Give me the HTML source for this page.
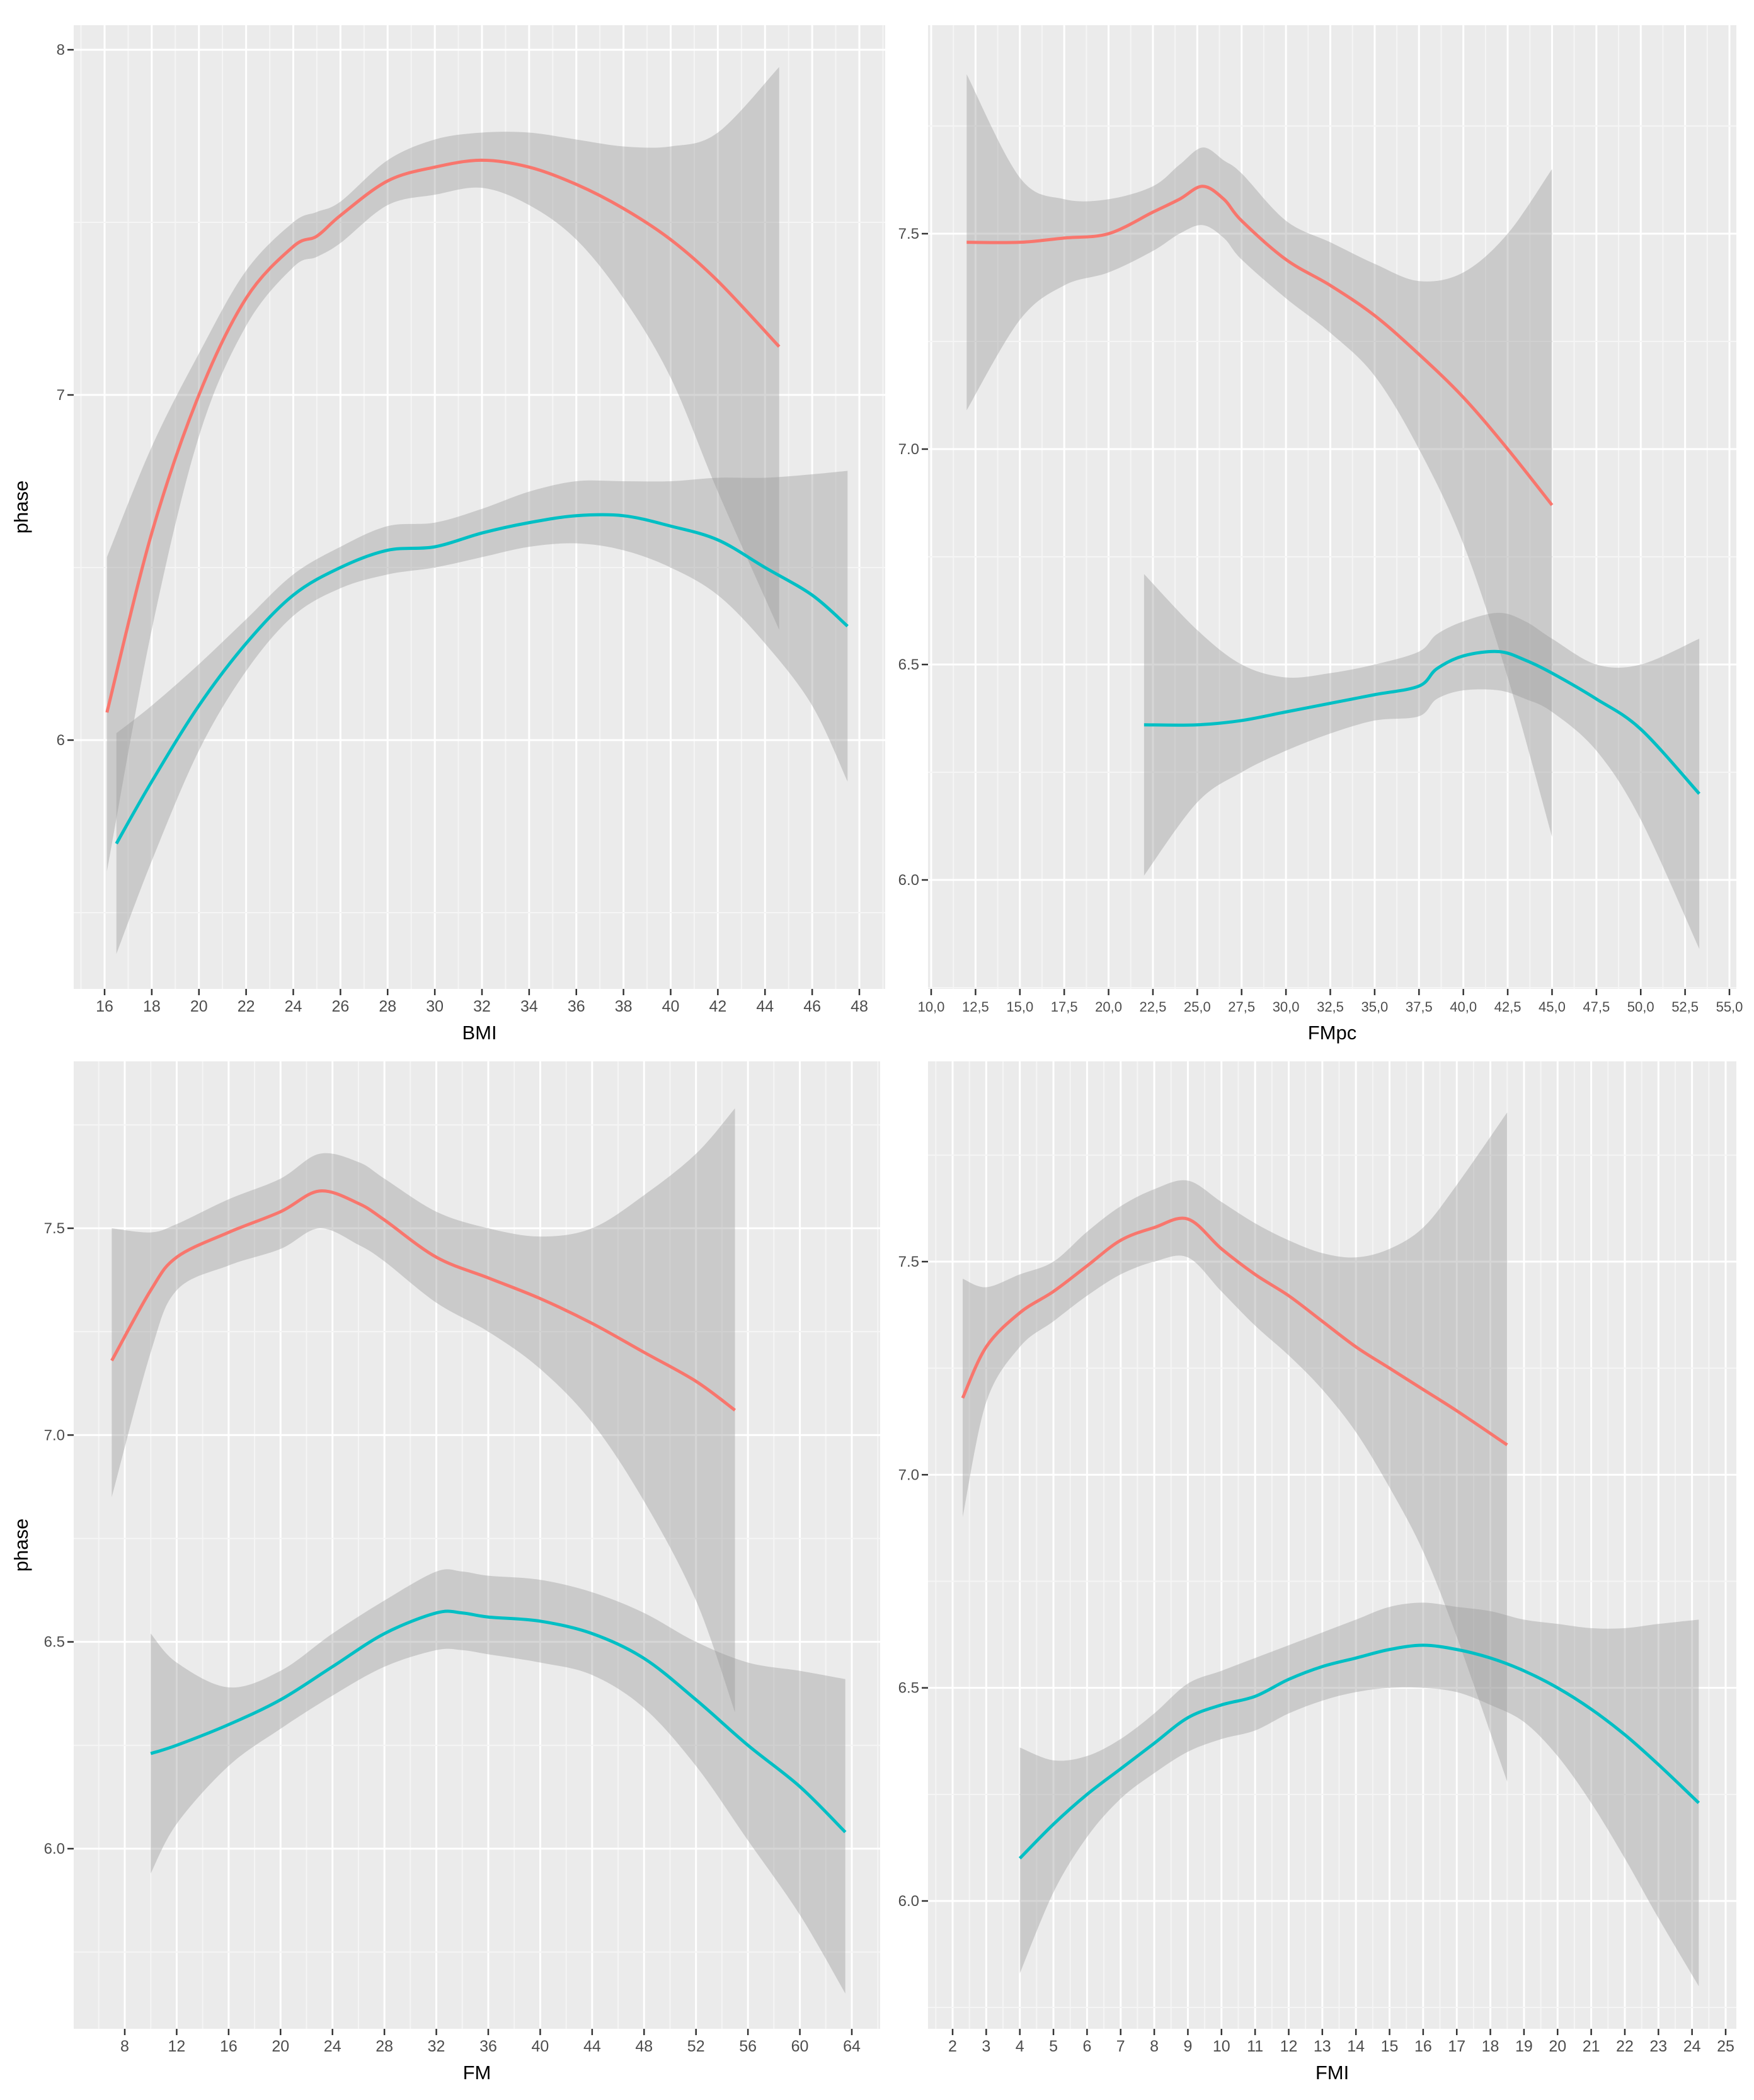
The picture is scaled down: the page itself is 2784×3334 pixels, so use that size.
<!DOCTYPE html>
<html><head><meta charset="utf-8"><style>
html,body{margin:0;padding:0;background:#fff;width:2784px;height:3334px;overflow:hidden}
svg{display:block;font-family:"Liberation Sans",sans-serif;overflow:hidden}
</style></head><body>
<svg id="chart" width="2784" height="3334" viewBox="0 0 2784 3334" xmlns="http://www.w3.org/2000/svg"></svg>
<script>
// ---- Panel 1: BMI ----
const bmiRedX=[16.1,18,20,22,24,25,26,28,30,32,34,36,38,40,42,44.6];
const bmiRedFit=[6.08,6.6,7.0,7.28,7.43,7.46,7.52,7.62,7.66,7.68,7.66,7.61,7.54,7.45,7.33,7.14];
const bmiRedHi=[6.53,6.85,7.12,7.36,7.5,7.53,7.56,7.68,7.74,7.76,7.76,7.74,7.72,7.72,7.76,7.95];
const bmiRedLo=[5.62,6.32,6.88,7.2,7.37,7.4,7.44,7.55,7.58,7.6,7.55,7.45,7.28,7.05,6.72,6.32];
const bmiCyX=[16.5,18,20,22,24,26,28,30,32,34,36,38,40,42,44,46,47.5];
const bmiCyFit=[5.7,5.88,6.1,6.28,6.42,6.5,6.55,6.56,6.6,6.63,6.65,6.65,6.62,6.58,6.5,6.42,6.33];
const bmiCyHi=[6.02,6.1,6.22,6.35,6.48,6.56,6.62,6.63,6.67,6.72,6.75,6.75,6.75,6.76,6.76,6.77,6.78];
const bmiCyLo=[5.38,5.65,5.97,6.2,6.36,6.44,6.48,6.5,6.53,6.56,6.57,6.55,6.5,6.42,6.28,6.1,5.88];
const bmiXTicks=["16","18","20","22","24","26","28","30","32","34","36","38","40","42","44","46","48"];
const bmiYTicks=["6","7","8"];
// ---- Panel 2: FMpc ----
const fmpcRedX=[12,15,17.5,20,22.5,24,25.3,26.5,27.5,30,32.5,35,37.5,40,42.5,45];
const fmpcRedFit=[7.48,7.48,7.49,7.5,7.55,7.58,7.61,7.58,7.53,7.44,7.38,7.31,7.22,7.12,7.0,6.87];
const fmpcRedHi=[7.87,7.63,7.58,7.58,7.61,7.66,7.7,7.67,7.64,7.53,7.48,7.43,7.39,7.41,7.5,7.65];
const fmpcRedLo=[7.09,7.3,7.38,7.41,7.46,7.5,7.52,7.49,7.44,7.35,7.27,7.17,7.0,6.78,6.47,6.1];
const fmpcCyX=[22,25,27.5,30,32.5,35,37.5,38.5,40,42,43.5,45,47.5,50,53.3];
const fmpcCyFit=[6.36,6.36,6.37,6.39,6.41,6.43,6.45,6.49,6.52,6.53,6.51,6.48,6.42,6.35,6.2];
const fmpcCyHi=[6.71,6.58,6.5,6.47,6.48,6.5,6.53,6.57,6.6,6.62,6.6,6.56,6.5,6.5,6.56];
const fmpcCyLo=[6.01,6.18,6.25,6.3,6.34,6.37,6.38,6.42,6.44,6.44,6.42,6.39,6.3,6.14,5.84];
const fmpcXTicks=["10,0","12,5","15,0","17,5","20,0","22,5","25,0","27,5","30,0","32,5","35,0","37,5","40,0","42,5","45,0","47,5","50,0","52,5","55,0"];
const fmpcYTicks=["6.0","6.5","7.0","7.5"];
// ---- Panel 3: FM ----
const fmRedX=[7,10,12,16,20,23,26,28,32,36,40,44,48,52,55];
const fmRedFit=[7.18,7.35,7.43,7.49,7.54,7.59,7.56,7.52,7.43,7.38,7.33,7.27,7.2,7.13,7.06];
const fmRedHi=[7.5,7.49,7.51,7.57,7.62,7.68,7.66,7.62,7.54,7.5,7.48,7.5,7.58,7.68,7.79];
const fmRedLo=[6.85,7.2,7.35,7.41,7.45,7.5,7.46,7.42,7.32,7.25,7.16,7.03,6.84,6.6,6.33];
const fmCyX=[10,12,16,20,24,28,32,34,36,40,44,48,52,56,60,63.5];
const fmCyFit=[6.23,6.25,6.3,6.36,6.44,6.52,6.57,6.57,6.56,6.55,6.52,6.46,6.36,6.25,6.15,6.04];
const fmCyHi=[6.52,6.45,6.39,6.43,6.52,6.6,6.67,6.67,6.66,6.65,6.62,6.57,6.5,6.45,6.43,6.41];
const fmCyLo=[5.94,6.06,6.2,6.29,6.37,6.44,6.48,6.48,6.47,6.45,6.42,6.34,6.2,6.02,5.84,5.65];
const fmXTicks=["8","12","16","20","24","28","32","36","40","44","48","52","56","60","64"];
const fmYTicks=["6.0","6.5","7.0","7.5"];
// ---- Panel 4: FMI ----
const fmiRedX=[2.3,3,4,5,6,7,8,9,10,11,12,13,14,15,16,17,18.5];
const fmiRedFit=[7.18,7.3,7.38,7.43,7.49,7.55,7.58,7.6,7.53,7.47,7.42,7.36,7.3,7.25,7.2,7.15,7.07];
const fmiRedHi=[7.46,7.44,7.47,7.5,7.57,7.63,7.67,7.69,7.64,7.59,7.55,7.52,7.51,7.53,7.58,7.68,7.85];
const fmiRedLo=[6.9,7.17,7.3,7.36,7.42,7.47,7.5,7.51,7.43,7.35,7.28,7.2,7.1,6.97,6.82,6.62,6.28];
const fmiCyX=[4,5,6,7,8,9,10,11,12,13,14,15,16,17,18,19,20,21,22,23,24.2];
const fmiCyFit=[6.1,6.18,6.25,6.31,6.37,6.43,6.46,6.48,6.52,6.55,6.57,6.59,6.6,6.59,6.57,6.54,6.5,6.45,6.39,6.32,6.23];
const fmiCyHi=[6.36,6.33,6.34,6.38,6.44,6.51,6.54,6.57,6.6,6.63,6.66,6.69,6.7,6.69,6.68,6.66,6.65,6.64,6.64,6.65,6.66];
const fmiCyLo=[5.83,6.02,6.15,6.24,6.3,6.35,6.38,6.4,6.44,6.47,6.49,6.5,6.5,6.49,6.46,6.42,6.34,6.23,6.1,5.96,5.8];
const fmiXTicks=["2","3","4","5","6","7","8","9","10","11","12","13","14","15","16","17","18","19","20","21","22","23","24","25"];
const fmiYTicks=["6.0","6.5","7.0","7.5"];

const NS="http://www.w3.org/2000/svg";
const svg=document.getElementById('chart');
function mk(tag,attrs,parent){const e=document.createElementNS(NS,tag);for(const k in attrs)e.setAttribute(k,attrs[k]);(parent||svg).appendChild(e);return e;}
function smooth(pts){let d='M'+pts[0][0]+','+pts[0][1];for(let i=0;i<pts.length-1;i++){const p0=pts[i-1]||pts[i],p1=pts[i],p2=pts[i+1],p3=pts[i+2]||p2;
 const c1x=p1[0]+(p2[0]-p0[0])/6,c1y=p1[1]+(p2[1]-p0[1])/6,c2x=p2[0]-(p3[0]-p1[0])/6,c2y=p2[1]-(p3[1]-p1[1])/6;
 d+=' C'+c1x+','+c1y+' '+c2x+','+c2y+' '+p2[0]+','+p2[1];}return d;}

function panel(cfg){
 const g=mk('g',{});
 
 
 const xs=v=>cfg.px0+(v-cfg.xv0)*(cfg.px1-cfg.px0)/(cfg.xv1-cfg.xv0);
 const ys=v=>cfg.py0+(v-cfg.yv0)*(cfg.py1-cfg.py0)/(cfg.yv1-cfg.yv0);
 const bg=mk('rect',{x:cfg.L,y:cfg.T,width:cfg.R-cfg.L,height:cfg.B-cfg.T,fill:'#ebebeb'},g);
 
 
 const clipId='c'+cfg.name;
 const cp=mk('clipPath',{id:clipId},g);mk('rect',{x:cfg.L,y:cfg.T,width:cfg.R-cfg.L,height:cfg.B-cfg.T},cp);
 const grid=mk('g',{'clip-path':'url(#'+clipId+')'},g);
 
 
 const xm=cfg.xTicks.map(t=>parseFloat(t.replace(',','.')));
 const ym=cfg.yTicks.map(t=>parseFloat(t));
 const xstep=xm[1]-xm[0], ystep=ym[1]-ym[0];
 const vline=(x,c,w)=>{if(x>cfg.L&&x<cfg.R)mk('line',{x1:x,x2:x,y1:cfg.T,y2:cfg.B,stroke:c,'stroke-width':w},grid);};
 const hline=(y,c,w)=>{if(y>cfg.T&&y<cfg.B)mk('line',{y1:y,y2:y,x1:cfg.L,x2:cfg.R,stroke:c,'stroke-width':w},grid);};
 for(let v=xm[0]-xstep*3;v<=xm[xm.length-1]+xstep*3;v+=xstep){
  vline(xs(v+xstep/2),'#f5f5f5',2);vline(xs(v),'#fff',3);}
 for(let v=ym[0]-ystep*3;v<=ym[ym.length-1]+ystep*3;v+=ystep){
  hline(ys(v+ystep/2),'#f5f5f5',2);hline(ys(v),'#fff',3);}
 const series=[[cfg.rx,cfg.rf,cfg.rh,cfg.rl,'#F8766D','red'],[cfg.cx,cfg.cf,cfg.ch,cfg.cl,'#00BFC4','cyan']];
 series.forEach(s=>{
  const hi=s[0].map((x,i)=>[xs(x),ys(s[2][i])]);
  const lo=s[0].map((x,i)=>[xs(x),ys(s[3][i])]).reverse();
  const band=mk('path',{d:smooth(hi)+' L'+lo[0][0]+','+lo[0][1]+smooth(lo).replace(/^M[^C]*/,'')+' Z',fill:'#999','fill-opacity':0.4,'clip-path':'url(#'+clipId+')'},g);
  
  
 });
 series.forEach(s=>{
  const pts=s[0].map((x,i)=>[xs(x),ys(s[1][i])]);
  const ln=mk('path',{d:smooth(pts),fill:'none',stroke:s[4],'stroke-width':5,'clip-path':'url(#'+clipId+')'},g);
  
  
 });
 cfg.xTicks.forEach((t,i)=>{const x=xs(xm[i]);
  mk('line',{x1:x,x2:x,y1:cfg.B,y2:cfg.B+10,stroke:'#333','stroke-width':2.5},g);
  const tx=mk('text',{x:x,y:cfg.B+36,'text-anchor':'middle','font-size':cfg.xfs||25,fill:'#4d4d4d'},g);tx.textContent=t;
  
  });
 cfg.yTicks.forEach((t,i)=>{const y=ys(ym[i]);
  mk('line',{x1:cfg.L-10,x2:cfg.L,y1:y,y2:y,stroke:'#333','stroke-width':2.5},g);
  const tx=mk('text',{x:cfg.L-14,y:y+8,'text-anchor':'end','font-size':24,fill:'#4d4d4d'},g);tx.textContent=t;
  
  });
 const xt=mk('text',{x:(cfg.L+cfg.R)/2,y:cfg.B+80,'text-anchor':'middle','font-size':31,fill:'#000'},g);xt.textContent=cfg.xTitle;
 
 
 if(cfg.yTitle){const yt=mk('text',{x:0,y:0,'text-anchor':'middle','font-size':31,fill:'#000',transform:'translate(44,'+((cfg.T+cfg.B)/2)+') rotate(-90)'},g);yt.textContent=cfg.yTitle;
  
  }
}
panel({name:'panel-bmi',L:117,R:1405,T:40,B:1570,px0:166,px1:1364,xv0:16,xv1:48,py0:1175,py1:79,yv0:6,yv1:8,
 rx:bmiRedX,rf:bmiRedFit,rh:bmiRedHi,rl:bmiRedLo,cx:bmiCyX,cf:bmiCyFit,ch:bmiCyHi,cl:bmiCyLo,xTicks:bmiXTicks,yTicks:bmiYTicks,xTitle:'BMI',yTitle:'phase'});
panel({name:'panel-fmpc',L:1473,R:2756,T:40,B:1570,px0:1478,px1:2745,xv0:10,xv1:55,py0:1397,py1:371,yv0:6,yv1:7.5,xfs:22,
 rx:fmpcRedX,rf:fmpcRedFit,rh:fmpcRedHi,rl:fmpcRedLo,cx:fmpcCyX,cf:fmpcCyFit,ch:fmpcCyHi,cl:fmpcCyLo,xTicks:fmpcXTicks,yTicks:fmpcYTicks,xTitle:'FMpc'});
panel({name:'panel-fm',L:117,R:1397,T:1685,B:3221,px0:198,px1:1352,xv0:8,xv1:64,py0:2935,py1:1950,yv0:6,yv1:7.5,
 rx:fmRedX,rf:fmRedFit,rh:fmRedHi,rl:fmRedLo,cx:fmCyX,cf:fmCyFit,ch:fmCyHi,cl:fmCyLo,xTicks:fmXTicks,yTicks:fmYTicks,xTitle:'FM',yTitle:'phase'});
panel({name:'panel-fmi',L:1473,R:2756,T:1685,B:3221,px0:1512,px1:2739,xv0:2,xv1:25,py0:3018,py1:2003,yv0:6,yv1:7.5,
 rx:fmiRedX,rf:fmiRedFit,rh:fmiRedHi,rl:fmiRedLo,cx:fmiCyX,cf:fmiCyFit,ch:fmiCyHi,cl:fmiCyLo,xTicks:fmiXTicks,yTicks:fmiYTicks,xTitle:'FMI'});
</script>
</body></html>
